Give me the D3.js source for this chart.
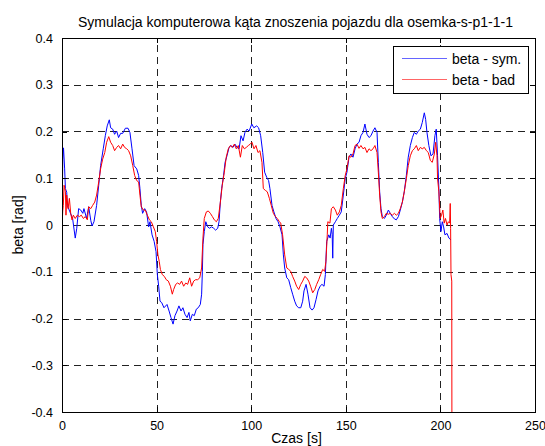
<!DOCTYPE html>
<html>
<head>
<meta charset="utf-8">
<script src="https://cdn.jsdelivr.net/npm/d3@7"></script>
<style>
  body { margin: 0; background: #fff; }
  svg { display: block; font-family: "Liberation Sans", Arial, sans-serif; }
</style>
</head>
<body>
<div id="viz-container"></div>
<script>
// time [s] and beta [rad] for the simulated angle
let tSym = [0,0.4,0.8,1.4,1.8,2.5,2.8,4.2,5.6,7,7.8,8.8,9.9,11,11.6,13,14.1,15.2,15.9,16.9,18.3,19.4,20.4,21.8,22.9,23.9,25,25.7,26.8,27.8,28.9,29.9,31,32.1,33.5,34.9,35.9,37,38.1,39.5,40.5,41.2,41.9,42.6,43.7,44.7,45.8,46.5,47.6,48.7,49.7,50.4,51.1,51.8,52.7,53.9,55.5,56.6,57.6,58.7,59.7,60.8,61.8,62.9,63.9,65,66.1,67.1,67.8,68.9,69.9,71,72,73.1,73.8,74.2,74.5,75.2,76,77,78,79,80.2,81.2,82.3,83,83.7,84.4,85.4,86.2,87.2,88.3,89.3,90.4,91.4,92.5,93.6,94.6,95.7,96.7,97.8,98.9,100.3,101.4,102.9,103.9,105,106.1,107.1,108.2,109.2,109.9,111,112,113.1,114.2,115.2,116.3,117,117.7,118.8,119.8,120.9,121.9,123,124,125.1,126.2,127.2,127.9,129,130,131.1,132.2,133.2,134.3,135.3,136.4,137.4,138.5,139.2,139.9,141,141.7,142.4,142.8,143.1,143.4,144.5,145.5,146.6,147.6,148.7,149.7,150.6,151.7,152.7,153.8,154.9,155.9,157,158,159.1,160.1,161.2,162.3,163.3,164.4,165.4,166.5,167.2,167.9,168.6,169.3,170.4,171.4,172.5,173.5,174.6,175.7,176.7,177.8,178.8,179.9,180.9,182,183,184.1,185.2,186.2,187.3,188.3,189.4,190.4,191.5,192.2,192.9,193.9,195,196.1,197.1,197.8,198.5,199.2,199.6,200.3,201,201.7,202.4,203.5,204.5,205.6];
let betaSym = [0,0.14,0.165,0.12,0.078,0.07,0.042,0.028,0.014,-0.028,-0.007,0.035,0.032,0.025,0.035,0.014,0.039,0.01,-0.002,0.007,0.042,0.085,0.127,0.163,0.191,0.212,0.225,0.208,0.205,0.194,0.201,0.187,0.196,0.196,0.207,0.207,0.198,0.163,0.127,0.12,0.106,0.078,0.042,0.025,0.035,0.028,-0.004,0.007,-0.021,-0.035,-0.057,-0.106,-0.131,-0.163,-0.166,-0.177,-0.17,-0.184,-0.198,-0.212,-0.194,-0.184,-0.173,-0.184,-0.177,-0.191,-0.198,-0.187,-0.205,-0.191,-0.194,-0.18,-0.177,-0.17,-0.148,-0.099,-0.042,-0.014,0.007,-0.004,-0.007,-0.004,-0.007,-0.011,-0.007,0.007,0.049,0.078,0.106,0.134,0.148,0.166,0.17,0.166,0.173,0.166,0.163,0.191,0.18,0.198,0.205,0.201,0.216,0.208,0.212,0.208,0.191,0.155,0.113,0.102,0.095,0.078,0.042,0.028,0.014,0.007,-0.004,-0.021,-0.064,-0.092,-0.113,-0.117,-0.134,-0.148,-0.163,-0.173,-0.177,-0.177,-0.163,-0.141,-0.127,-0.148,-0.177,-0.182,-0.177,-0.159,-0.141,-0.131,-0.127,-0.131,-0.106,-0.035,-0.021,-0.028,-0.007,-0.02,-0.071,0,0.007,0.014,0.021,0.028,0.064,0.099,0.113,0.145,0.152,0.145,0.163,0.173,0.177,0.191,0.198,0.216,0.194,0.187,0.191,0.201,0.208,0.198,0.134,0.071,0.035,0.018,0.014,0.021,0.032,0.025,0.018,0.013,0.011,0.018,0.032,0.049,0.071,0.106,0.145,0.17,0.187,0.198,0.194,0.201,0.205,0.219,0.24,0.226,0.198,0.17,0.148,0.152,0.191,0.205,0.148,0.078,0.014,-0.014,0.007,-0.004,-0.021,-0.018,-0.028,-0.032];

// time [s] and beta [rad] from the measurement ("bad")
let tBad = [0,0.05,0.4,0.7,1.1,1.4,1.8,2.1,2.5,3.2,3.9,4.6,5.3,6,7,8.1,9.2,10.2,11.3,12.3,13.4,14.1,15.2,16.2,17.3,18.3,19.4,20.4,21.5,22.6,23.6,24.7,25.7,26.8,27.8,28.9,29.9,31,32.1,33.1,34.2,35.2,36.3,37.4,38.4,39.5,40.5,41.2,41.9,43,44,45.1,46.2,47.2,48.3,49.3,50,50.7,51.4,52,53,54.1,55.1,56.2,57.3,58.3,59,60.1,61.1,62.2,63.2,64.3,65.4,66.4,67.5,68.5,69.6,70.6,71.7,72.8,73.8,74.5,75.2,76.3,77.3,78.4,79.5,80.5,81.6,82.6,83.7,84.7,85.8,86.8,87.9,89,90,91.1,92.1,93.2,94.3,95.3,96.4,97.4,98.5,99.5,100.4,101.5,102.5,103.6,104.6,105.7,106.4,107.5,108.5,109.6,110.6,111.7,112.8,113.8,114.9,115.6,116.6,117.7,118.8,119.8,120.9,121.9,123,124,125.1,126.2,127.2,128.3,129.3,130.4,131.4,132.5,133.6,134.6,135.7,136.7,137.8,138.8,139.5,140.2,140.5,141.6,142.4,143.4,144.5,145.5,146.6,147.6,148.7,149.7,150.6,151.7,152.7,153.8,154.9,155.9,157,158,159.1,160.1,161.2,162.3,163.3,164.4,165.4,166.5,167.2,167.9,168.6,169.3,170.4,171.4,172.5,173.5,174.6,175.7,176.7,177.8,178.8,179.9,180.9,182,183,184.1,185.2,186.2,187.3,188.3,189.4,190.4,191.5,192.6,193.6,194.7,195.7,196.8,197.5,198.2,198.5,199.2,199.9,200.6,201.3,202,202.7,203.5,204.2,204.9,205.2,205.4,205.6,206,206.1];
let betaBad = [0.3,0.0,0.03,0.042,0.085,0.08,0.071,0.021,0.064,0.035,0.057,0.025,0.011,0.021,0.014,0.021,0.018,0.021,0.014,0.018,0.011,0.039,0.035,0.042,0.049,0.064,0.092,0.12,0.141,0.155,0.177,0.189,0.177,0.17,0.159,0.166,0.17,0.163,0.173,0.166,0.163,0.159,0.148,0.127,0.106,0.095,0.092,0.064,0.039,0.032,0.032,0.021,0.011,0.007,-0.004,-0.014,-0.035,-0.064,-0.078,-0.095,-0.106,-0.11,-0.117,-0.12,-0.131,-0.148,-0.138,-0.127,-0.124,-0.127,-0.12,-0.131,-0.124,-0.127,-0.113,-0.131,-0.12,-0.117,-0.117,-0.113,-0.092,-0.028,0.014,0.028,0.03,0.025,0.018,0.011,0.007,0.014,0.049,0.085,0.113,0.145,0.163,0.17,0.166,0.173,0.163,0.17,0.145,0.17,0.163,0.166,0.17,0.173,0.177,0.163,0.17,0.155,0.159,0.134,0.078,0.074,0.071,0.057,0.042,0.025,0.018,0.014,0.007,0.004,-0.021,-0.064,-0.092,-0.095,-0.099,-0.11,-0.12,-0.131,-0.138,-0.127,-0.12,-0.11,-0.113,-0.12,-0.131,-0.145,-0.138,-0.127,-0.117,-0.106,-0.095,-0.099,-0.078,-0.021,0.007,0.004,0.035,0.039,0.032,0.021,0.028,0.042,0.078,0.106,0.12,0.148,0.145,0.152,0.17,0.173,0.164,0.17,0.163,0.166,0.155,0.163,0.159,0.163,0.17,0.155,0.113,0.064,0.028,0.014,0.018,0.025,0.023,0.025,0.021,0.025,0.021,0.025,0.035,0.049,0.071,0.099,0.127,0.148,0.159,0.163,0.17,0.159,0.166,0.163,0.166,0.159,0.155,0.138,0.134,0.152,0.177,0.148,0.099,0.071,0.014,0.021,0.032,0.004,0.014,0,0.007,0.004,0.046,-0.007,-0.106,-0.12,-0.5];

let xTicks = [0, 50, 100, 150, 200, 250];
let yTicks = [-0.4, -0.3, -0.2, -0.1, 0, 0.1, 0.2, 0.3, 0.4];
let seriesNames = ["beta - sym.", "beta - bad"];
let seriesColors = ["#0000ff", "#ff0000"];

let w = 545, h = 446;
let plotLeft = 62, plotRight = 535, plotTop = 38, plotBottom = 412;

let viz = d3.select("#viz-container")
    .append("svg")
    .attr("width", w)
    .attr("height", h);

let xScale = d3.scaleLinear().domain([0, 250]).range([plotLeft, plotRight]);
let yScale = d3.scaleLinear().domain([-0.4, 0.4]).range([plotBottom, plotTop]);

// grid
let grid = viz.append("g").attr("stroke", "#222").attr("stroke-width", 1)
    .attr("stroke-dasharray", "7,5").attr("shape-rendering", "crispEdges");
grid.selectAll(".vg").data(xTicks.slice(1, -1)).enter()
    .append("line")
    .attr("x1", d => Math.round(xScale(d)) + 0.5)
    .attr("x2", d => Math.round(xScale(d)) + 0.5)
    .attr("y1", plotBottom)
    .attr("y2", plotTop);
grid.selectAll(".hg").data(yTicks.slice(1, -1)).enter()
    .append("line")
    .attr("y1", d => Math.round(yScale(d)) + 0.5)
    .attr("y2", d => Math.round(yScale(d)) + 0.5)
    .attr("x1", plotLeft)
    .attr("x2", plotRight);

// lines
viz.append("clipPath").attr("id", "clip")
    .append("rect").attr("x", plotLeft).attr("y", plotTop)
    .attr("width", plotRight - plotLeft).attr("height", plotBottom - plotTop);

let lineGenerator = d3.line()
    .x(d => xScale(d[0]))
    .y(d => yScale(d[1]));

let symData = tSym.map((t, i) => [t, betaSym[i]]);
let badData = tBad.map((t, i) => [t, betaBad[i]]);

viz.append("path")
    .datum(symData)
    .attr("clip-path", "url(#clip)")
    .attr("fill", "none")
    .attr("stroke", seriesColors[0])
    .attr("stroke-width", 1)
    .attr("d", lineGenerator);

viz.append("path")
    .datum(badData)
    .attr("clip-path", "url(#clip)")
    .attr("fill", "none")
    .attr("stroke", seriesColors[1])
    .attr("stroke-width", 1)
    .attr("d", lineGenerator);

// axes (ticks inside, on all four sides)
let xAxis = d3.axisBottom(xScale).tickValues(xTicks).tickSizeInner(-5).tickSizeOuter(0).tickPadding(9);
let xAxisGroup = viz.append("g").attr("transform", "translate(0," + plotBottom + ")").call(xAxis);
let yAxis = d3.axisLeft(yScale).tickValues(yTicks).tickSizeInner(-5).tickSizeOuter(0).tickPadding(9)
    .tickFormat(d => d === 0 ? "0" : d3.format(".1f")(d).replace("\u2212", "-"));
let yAxisGroup = viz.append("g").attr("transform", "translate(" + plotLeft + ",0)").call(yAxis);
let xTopAxis = viz.append("g").attr("transform", "translate(0," + plotTop + ")")
    .call(d3.axisTop(xScale).tickValues(xTicks).tickSizeInner(-5).tickSizeOuter(0).tickFormat(""));
let yRightAxis = viz.append("g").attr("transform", "translate(" + plotRight + ",0)")
    .call(d3.axisRight(yScale).tickValues(yTicks).tickSizeInner(-5).tickSizeOuter(0).tickFormat(""));

viz.selectAll(".domain").remove();
viz.selectAll(".tick line").attr("stroke", "#000").attr("shape-rendering", "crispEdges");
viz.selectAll(".tick text").attr("fill", "#000")
    .style("font-family", "Liberation Sans, Arial, sans-serif").style("font-size", "12.5px");

viz.append("rect")
    .attr("x", plotLeft + 0.5).attr("y", plotTop + 0.5)
    .attr("width", plotRight - plotLeft).attr("height", plotBottom - plotTop)
    .attr("fill", "none").attr("stroke", "#000").attr("stroke-width", 1)
    .attr("shape-rendering", "crispEdges");

// title and labels
viz.append("text")
    .attr("x", (plotLeft + plotRight) / 2 - 3).attr("y", 27)
    .attr("text-anchor", "middle").style("font-size", "14px")
    .text("Symulacja komputerowa kąta znoszenia pojazdu dla osemka-s-p1-1-1");
viz.append("text")
    .attr("x", (plotLeft + plotRight) / 2 - 2).attr("y", 443)
    .attr("text-anchor", "middle").style("font-size", "14px")
    .text("Czas [s]");
viz.append("text")
    .attr("transform", "translate(23," + ((plotTop + plotBottom) / 2) + ") rotate(-90)")
    .attr("text-anchor", "middle").style("font-size", "14px")
    .text("beta [rad]");

// legend
let legend = viz.append("g");
legend.append("rect")
    .attr("x", 393.5).attr("y", 46.5).attr("width", 135).attr("height", 47)
    .attr("fill", "#fff").attr("stroke", "#000").attr("shape-rendering", "crispEdges");
seriesNames.forEach(function(name, i) {
    let ly = 58.5 + i * 21;
    legend.append("line")
        .attr("x1", 402).attr("x2", 447).attr("y1", ly).attr("y2", ly)
        .attr("stroke", seriesColors[i]).attr("stroke-width", 1).attr("opacity", 0.6);
    legend.append("text")
        .attr("x", 452).attr("y", ly + 5)
        .style("font-size", "14px")
        .text(name);
});
</script>
</body>
</html>
